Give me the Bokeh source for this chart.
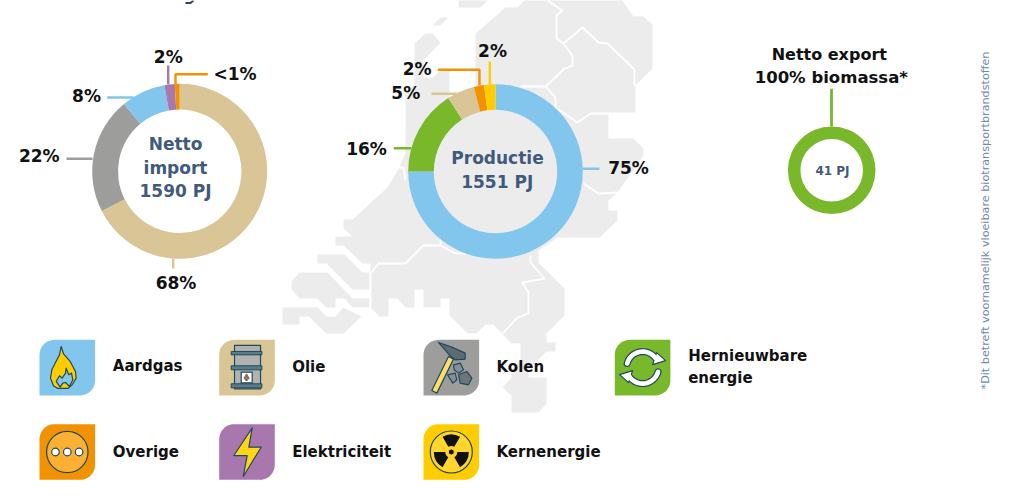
import numpy as np
from bokeh.plotting import figure
from bokeh.models import ColumnDataSource
from bokeh.core.properties import value
from bokeh.embed import file_html
from bokeh.resources import INLINE

# ---------------- data ----------------
import_labels = ["Olie", "Kolen", "Aardgas", "Elektriciteit", "Overige"]
import_values = [67.5, 21.5, 8.2, 1.9, 0.9]
production_labels = ["Aardgas", "Hernieuwbare energie", "Olie", "Overige", "Kernenergie"]
production_values = [75.0, 15.9, 5.1, 1.9, 2.1]
export_labels = ["Hernieuwbare energie"]
export_values = [100.0]
colors = {"Aardgas": "#82C6EE", "Olie": "#D9C595", "Kolen": "#9D9D9C", "Hernieuwbare energie": "#78B82A",
          "Overige": "#F39200", "Elektriciteit": "#A877AE", "Kernenergie": "#FFCC00"}

FONT = "DejaVu Sans"
DARK = "#1D4A5E"
INK = "#111111"
SLATE = "#415A7B"
MAP = "#ECECEC"

p = figure(width=1006, height=488, x_range=(0, 1006), y_range=(488, 0),
           x_axis_location=None, y_axis_location=None, toolbar_location=None,
           output_backend="svg", min_border=0, outline_line_color=None,
           background_fill_color="white")
p.grid.visible = False

# ---------------- background map ----------------
map_main = [(414,43),(425,33),(432,33),(440,42),(423,60),(423,77),(433,77),(440,69),(449,69),(449,100),(475,100),
            (475,33),(505,7),(517,7),(527,-4),(619,-4),(633,16),(643,16),(652,24),(652,68),(635,85),(635,113),(608,113),
            (608,138),(633,138),(643,148),(643,155),(617,192),(608,200),(608,210),(617,210),(617,220),(599,237),(557,237),
            (538,250),(538,262),(564,288),(564,315),(546,333),(546,342),(555,342),(555,351),(546,351),(528,369),(528,377),
            (546,377),(546,403),(538,412),(511,412),(511,395),(502,387),(511,377),(511,369),(520,360),(520,343),(511,343),
            (493,324),(485,324),(476,333),(467,333),(449,315),(449,298),(440,298),(440,307),(423,307),(423,289),(414,289),
            (414,307),(405,307),(397,298),(388,298),(388,316),(379,316),(370,307),(370,263),(362,263),(343,245),(335,245),
            (335,236),(352,236),(343,228),(343,219),(352,219),(387,187),(397,170),(405,153),(405,93),(414,84)]
map_goeree = [(317,254),(344,254),(362,272),(369,272),(369,289),(352,289),(326,263),(317,263)]
map_zeeland = [(291,281),(299,272),(327,272),(352,298),(369,298),(369,307),(352,307),(344,298),(335,298),(335,307),
               (326,307),(317,298),(299,298),(291,289)]
map_zvl = [(282,307),(317,307),(326,316),(335,316),(343,307),(361,316),(343,333),(326,333),(308,316),(299,316),(299,324),(282,324)]
map_isle1 = [(432,25),(440,17),(448,17),(440,25)]
map_isle2 = [(458,-4),(491,-4),(480,7),(458,7)]
for poly_pts in [map_main, map_goeree, map_zeeland, map_zvl, map_isle1, map_isle2]:
    p.patch([a for a, _ in poly_pts], [b for _, b in poly_pts], fill_color=MAP, line_color=None)

map_borders = [
    [(547,0),(562,10),(556,15),(556,38),(563,43),(572,55),(572,65),(563,69),(545,86),(520,86)],
    [(563,43),(582,27),(598,42),(607,43),(634,69),(634,85)],
    [(545,86),(555,97),(555,107),(577,122),(590,113),(635,113)],
    [(583,183),(598,193),(617,192)],
    [(530,255),(530,262),(544,278),(522,282),(528,292),(528,313),(517,317),(502,333)],
    [(370,307),(370,273),(378,263),(405,263),(423,245),(440,245),(455,253),(470,253)],
    [(440,245),(440,235)],
    [(397,167),(403,167),(405,180)],
]
p.multi_line([[a for a, _ in b] for b in map_borders], [[c for _, c in b] for b in map_borders],
             line_color="white", line_width=1.8, line_join="round")

# tail of the cropped heading at the top edge of the picture
p.line([193, 190, 185], [0, 2.5, 2.5], line_color="#2C4668", line_width=2)

# ---------------- donuts ----------------
def donut(labels, values, cx, cy, r0, r1):
    total = sum(values)
    fr = np.cumsum([0] + list(values)) / total
    src = ColumnDataSource(dict(x=[cx] * len(values), y=[cy] * len(values),
                                start=list(np.pi / 2 - 2 * np.pi * fr[:-1]),
                                end=list(np.pi / 2 - 2 * np.pi * fr[1:]),
                                color=[colors[l] for l in labels]))
    p.annular_wedge("x", "y", inner_radius=r0, outer_radius=r1, start_angle="start", end_angle="end",
                    direction="clock", fill_color="color", line_color=None, source=src)

donut(import_labels, import_values, 179.2, 170.8, 61.7, 87.5)
donut(production_labels, production_values, 495, 171, 61.7, 87.3)
donut(export_labels, export_values, 831.2, 169.8, 31.3, 43.8)

# ---------------- leader lines ----------------
leaders = [
    ([172.7,172.7],[258,268],"Olie",2.4), ([66,92],[158.3,158.3],"Kolen",2.4), ([106.7,133],[97,97],"Aardgas",2.4),
    ([167.7,167.7],[65,84],"Elektriciteit",2.4), ([207.3,175,175],[73.7,73.7,84],"Overige",2.4),
    ([582,599],[168.3,168.3],"Aardgas",2.4), ([393.3,410.7],[147.7,147.7],"Hernieuwbare energie",2.4),
    ([431,456.7],[93.3,93.3],"Olie",2.4), ([437.3,479,479],[69.3,69.3,85],"Overige",2.4),
    ([489.3,489.3],[61,84],"Kernenergie",2.4), ([831,831],[88.3,126],"Hernieuwbare energie",2.8),
]
for xs, ys, c, w in leaders:
    p.line(xs, ys, line_color=colors[c], line_width=w)

# ---------------- texts ----------------
def txt(x, y, s, size, color=INK, align="center", style="bold", angle=0.0):
    p.text([x], [y], text=[s], text_font=value(FONT), text_font_size=f"{size}px", text_color=color,
           text_align=align, text_baseline="middle", text_font_style=style, angle=angle)

pct_size = 17
for x, y, s in [(175.5,282.7,"68%"),(38.8,155.7,"22%"),(86,95.7,"8%"),(167.8,56.7,"2%"),(234.5,73.3,"<1%"),
                (492,50,"2%"),(416.7,68.7,"2%"),(405.3,92,"5%"),(366,148.3,"16%"),(628,167.3,"75%")]:
    txt(x, y, s, pct_size)

for x, y, s in [(175,143,"Netto"),(175,167.7,"import"),(175,190.7,"1590 PJ"),(497,157,"Productie"),(496.7,181.7,"1551 PJ")]:
    txt(x, y, s, 17, SLATE)
txt(832, 170, "41 PJ", 12, SLATE)
txt(828.8, 54.3, "Netto export", 16)
txt(830.8, 76.7, "100% biomassa*", 16.5)
txt(985, 220, "*Dit betreft voornamelijk vloeibare biotransportbrandstoffen", 11.2, "#6F89A8", style="normal", angle=np.pi / 2)

legend_text = [(112.3,365,"Aardgas"),(291.7,366,"Olie"),(496,366.7,"Kolen"),(687.7,355,"Hernieuwbare"),(687.7,377.3,"energie"),
               (112.3,451,"Overige"),(291.7,451,"Elektriciteit"),(496,451,"Kernenergie")]
for x, y, s in legend_text:
    txt(x, y, s, 15, align="left")

# ---------------- legend tiles and icons ----------------
S = 55.6
def tile(x0, y0, c):
    r = 15
    a = np.linspace(0, np.pi / 2, 12)
    xs = list(x0 + r - r * np.cos(a)) + [x0 + S] + list(x0 + S - r + r * np.cos(a)) + [x0]
    ys = list(y0 + r - r * np.sin(a)) + [y0] + list(y0 + S - r + r * np.sin(a)) + [y0 + S]
    p.patch(xs, ys, fill_color=c, line_color=None)

def poly(x0, y0, pts, fill, lc=DARK, lw=1.2):
    p.patch([x0 + a / 3 for a, _ in pts], [y0 + b / 3 for _, b in pts], fill_color=fill, line_color=lc, line_width=lw, line_join="round")

def disc(cx, cy, r, fill, lc=DARK, lw=1.2):
    p.circle([cx], [cy], radius=r, fill_color=fill, line_color=lc, line_width=lw)

# Aardgas
x, y = 39, 339.3
tile(x, y, colors["Aardgas"])
poly(x, y, [(65,20),(72,42),(92,65),(108,95),(110,115),(98,135),(85,146),(55,146),(42,138),(33,115),(37,90),(48,68),(60,45)], "#FFCC00")
poly(x, y, [(80,85),(88,105),(96,100),(100,120),(90,140),(78,128),(70,130),(62,142),(50,125),(60,108),(68,115),(78,100)], "#82C6EE")

# Olie
x, y = 218.7, 339.3
tile(x, y, colors["Olie"])
poly(x, y, [(46,17),(124,17),(124,147),(46,147)], "#B2B2B2")
for y0, y1 in [(35,45),(78,90),(132,144)]:
    poly(x, y, [(36,y0),(128,y0),(128,y1),(36,y1)], "#5E7B88", lw=1)
poly(x, y, [(66,97),(99,97),(99,129),(66,129)], "white")
poly(x, y, [(82,102),(90,115),(82,124),(74,115)], "#B0703C", lw=0.6)

# Kolen
x, y = 423, 339.3
tile(x, y, colors["Kolen"])
poly(x, y, [(75,50),(90,58),(40,160),(25,152)], "#FFDD66")
poly(x, y, [(45,8),(85,22),(125,40),(125,58),(95,60),(80,48)], "#5F6B72")
poly(x, y, [(90,75),(110,70),(120,90),(105,100),(92,90)], "#8A8F92")
poly(x, y, [(105,105),(130,95),(145,115),(135,135),(110,130)], "#6E7478")
poly(x, y, [(72,105),(95,100),(100,120),(88,130)], "#8A8F92")

# Hernieuwbare energie
x, y = 614.3, 339.3
tile(x, y, colors["Hernieuwbare energie"])
cx, cy = x + S / 2, y + S / 2
for a0, a1, tip in [(165, 35, [(14,-15),(23,-7),(10,-3)]), (-15, -145, [(-14,15),(-23,7),(-10,3)])]:
    t = np.radians(np.linspace(a0, a1, 24))
    ax, ay = cx + 16 * np.cos(t), cy - 16 * np.sin(t)
    p.line(ax, ay, line_color=DARK, line_width=7, line_cap="round")
    p.patch([cx + u for u, _ in tip], [cy + v for _, v in tip], fill_color="white", line_color=DARK, line_width=1.2, line_join="round")
    p.line(ax, ay, line_color="white", line_width=4.6, line_cap="round")

# Overige
x, y = 39, 423.7
tile(x, y, colors["Overige"])
cx, cy = x + S / 2, y + S / 2
disc(cx, cy, 20.7, "#FBB034")
for dx in [-11.8, 0, 11.8]:
    disc(cx + dx, cy, 3.8, "white")

# Elektriciteit
x, y = 218.7, 423.7
tile(x, y, colors["Elektriciteit"])
poly(x, y, [(99,11),(44,94),(84,94),(72,157),(126,69),(89,69)], "#FFD617")

# Kernenergie
x, y = 423, 423.7
tile(x, y, colors["Kernenergie"])
cx, cy = x + S / 2, y + S / 2
disc(cx, cy, 21, "#FFD52E")
for ang in [90, 210, 330]:
    p.annular_wedge([cx], [cy], inner_radius=6, outer_radius=17.5, start_angle=np.radians(ang - 30), end_angle=np.radians(ang + 30),
                    direction="anticlock", fill_color="#111111", line_color=None)
disc(cx, cy, 3, "#111111", lc="#FFD52E", lw=1)

open("out.html", "w").write(file_html(p, INLINE))
